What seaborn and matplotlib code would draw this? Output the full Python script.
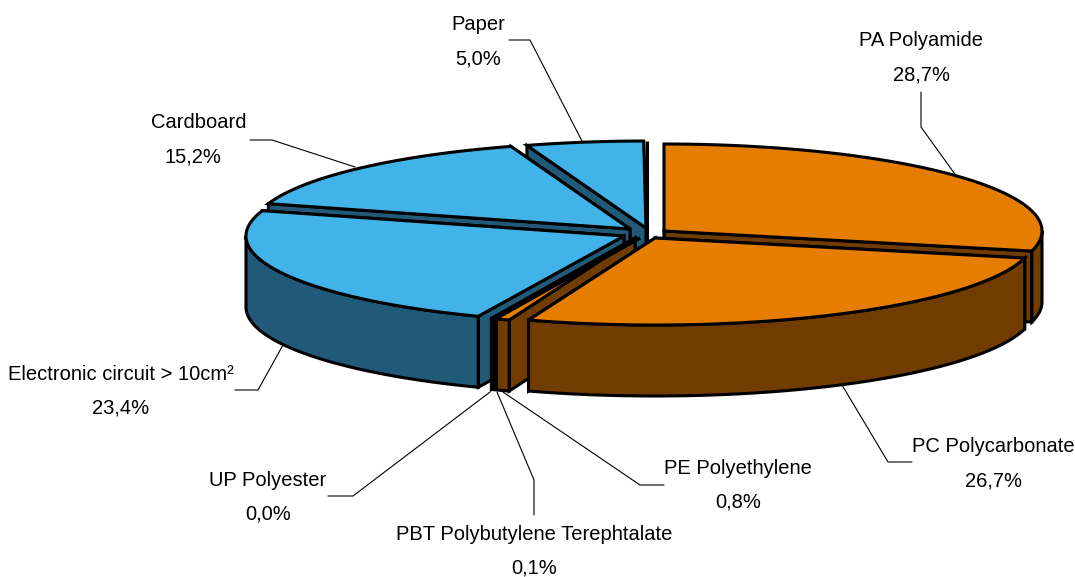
import numpy as np
import matplotlib
matplotlib.use("Agg")
import matplotlib.pyplot as plt
import seaborn as sns

# ---- data ----
categories = ["PA Polyamide", "PC Polycarbonate", "PE Polyethylene",
              "PBT Polybutylene Terephtalate", "UP Polyester",
              "Electronic circuit > 10cm²", "Cardboard", "Paper"]
shares = [28.7, 26.7, 0.8, 0.1, 0.0, 23.4, 15.2, 5.0]
groups = ["plastic", "plastic", "plastic", "plastic", "plastic", "other", "other", "other"]

# ---- style / layout ----
sns.set_theme(style="white")
plt.rcParams["font.family"] = ["Liberation Sans", "DejaVu Sans"]
top_colors = {"plastic": "#E47D00", "other": "#41B3E8"}
wall_colors = {"plastic": "#703C00", "other": "#215A78"}
RX, RY, DEPTH = 378.0, 87.0, 71.0
LW = 2.2
FS = 14.5
W, H = 1075, 577

# per-slice explosion: pivot of each wedge, in picture pixels
pivots = {"PA Polyamide": (664, 231), "PC Polycarbonate": (655, 238),
          "PE Polyethylene": (635, 238), "PBT Polybutylene Terephtalate": (640, 238),
          "UP Polyester": (640, 238), "Electronic circuit > 10cm²": (624, 236),
          "Cardboard": (630, 229), "Paper": (646, 228)}
rest_pivot = (647, 228)
rx_scale = {"PC Polycarbonate": 1.005}
# back-to-front painting order; the hairline slices sit on the wedge before them
order = ["Paper", "Cardboard", "PA Polyamide", "Electronic circuit > 10cm²",
         "PE Polyethylene", "PBT Polybutylene Terephtalate", "UP Polyester", "PC Polycarbonate"]
no_cut_walls = {"PBT Polybutylene Terephtalate", "UP Polyester"}
# name line centre, value line centre
label_pos = {"PA Polyamide": ((921, 40), (921, 75)),
             "PC Polycarbonate": ((993, 446), (993, 481)),
             "PE Polyethylene": ((738, 468), (738, 502)),
             "PBT Polybutylene Terephtalate": ((534, 534), (534, 568)),
             "UP Polyester": ((268, 480), (268, 514)),
             "Electronic circuit > 10cm²": ((121, 374), (121, 408)),
             "Cardboard": ((199, 123), (193, 157)),
             "Paper": ((478, 24), (478, 59))}
leaders = {"PA Polyamide": [(921, 92), (921, 127), (957, 177)],
           "PC Polycarbonate": [(912, 462), (888, 462), (842, 385)],
           "PE Polyethylene": [(664, 485), (640, 485), (503, 392)],
           "PBT Polybutylene Terephtalate": [(534, 515), (534, 480), (497, 392)],
           "UP Polyester": [(328, 496), (353, 496), (490, 392)],
           "Electronic circuit > 10cm²": [(235, 390), (258, 390), (283, 345)],
           "Cardboard": [(250, 140), (272, 140), (355, 167)],
           "Paper": [(509, 40), (530, 40), (583, 143)]}

fig = plt.figure(figsize=(W / 100, H / 100), dpi=100)
ax = fig.add_axes([0, 0, 1, 1])
ax.set_xlim(0, W)
ax.set_ylim(H, 0)
ax.axis("off")


def rim(pivot, a0, a1, k=1.0):
    t = np.radians(np.linspace(a0, a1, max(2, int(abs(a1 - a0) * 2) + 2)))
    return np.column_stack([pivot[0] + k * RX * np.sin(t), pivot[1] - RY * np.cos(t)])


def face(pts, color, z):
    ax.fill(pts[:, 0], pts[:, 1], facecolor=color, edgecolor="black", linewidth=LW,
            joinstyle="miter", zorder=z)


def wedge(pivot, a0, a1, top, wall, z, k=1.0, cuts=True):
    if a1 <= a0:
        return
    p = np.array(pivot, float)
    down = np.array([0, DEPTH])
    if cuts:
        for a in (a1, a0):
            e = rim(pivot, a, a, k)[0]
            face(np.array([p, e, e + down, p + down]), wall, z)
    lo, hi = max(a0, 90), min(a1, 270)
    if hi > lo:  # visible outer wall
        r = rim(pivot, lo, hi, k)
        face(np.vstack([r, (r + down)[::-1]]), wall, z + 0.1)
    face(np.vstack([p, rim(pivot, a0, a1, k)]), top, z + 0.2)


# cumulative angles, clockwise from twelve o'clock
ends = np.cumsum(shares) * 3.6
starts = np.r_[0, ends[:-1]]
spans = {c: (s, e, g) for c, s, e, g in zip(categories, starts, ends, groups)}

for i, name in enumerate(order):
    a0, a1, g = spans[name]
    wedge(pivots[name], a0, a1, top_colors[g], wall_colors[g], 3 + i,
          k=rx_scale.get(name, 1.0), cuts=name not in no_cut_walls)

# edge left by the unlabelled remainder of the circle, closing the last wedge
edge_top = rim(rest_pivot, 360, 360)[0]
ax.plot([edge_top[0], rest_pivot[0]], [edge_top[1], rest_pivot[1] + DEPTH],
        color="black", lw=LW, zorder=3.5, solid_capstyle="butt")

for name, v in zip(categories, shares):
    (x0, y0), (x1, y1) = label_pos[name]
    ax.text(x0, y0, name, ha="center", va="center", fontsize=FS, color="black", zorder=30)
    ax.text(x1, y1, f"{v:.1f}%".replace(".", ","), ha="center", va="center",
            fontsize=FS, color="black", zorder=30)
    pts = np.array(leaders[name])
    ax.plot(pts[:, 0], pts[:, 1], color="black", lw=0.8, zorder=30, solid_joinstyle="miter")

fig.savefig("out.png", dpi=100, facecolor="white")
